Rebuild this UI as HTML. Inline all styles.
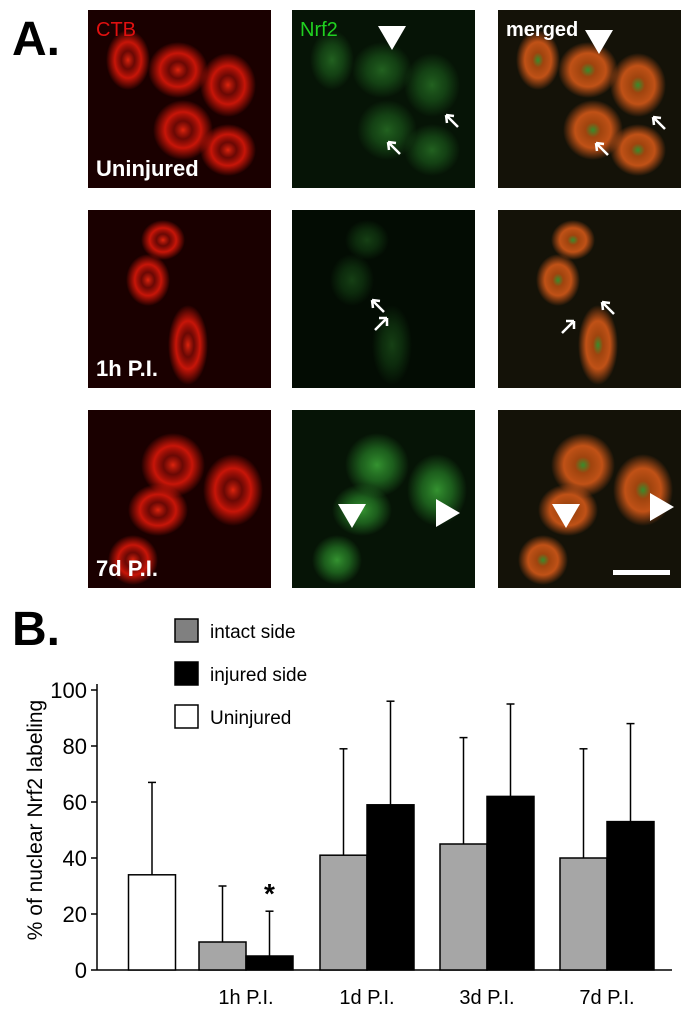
<!DOCTYPE html>
<html><head><meta charset="utf-8"><style>
body{margin:0;background:#fff;width:692px;height:1018px;overflow:hidden;font-family:"Liberation Sans",sans-serif}
svg text{font-family:"Liberation Sans",sans-serif}
</style></head><body>
<svg width="692" height="1018" viewBox="0 0 692 1018">
<defs>
<radialGradient id="rc"><stop offset="0" stop-color="#ff2a10" stop-opacity=".95"/><stop offset=".3" stop-color="#b01008" stop-opacity=".6"/><stop offset=".6" stop-color="#f01a0a" stop-opacity=".9"/><stop offset="1" stop-color="#f01a0a" stop-opacity="0"/></radialGradient>
<radialGradient id="gc"><stop offset="0" stop-color="#3fb03a" stop-opacity=".9"/><stop offset=".5" stop-color="#2a8a2a" stop-opacity=".7"/><stop offset="1" stop-color="#2a8a2a" stop-opacity="0"/></radialGradient>
<radialGradient id="oc"><stop offset="0" stop-color="#3a9a30"/><stop offset=".25" stop-color="#c05010" stop-opacity=".9"/><stop offset=".6" stop-color="#e8601a" stop-opacity=".9"/><stop offset="1" stop-color="#e8601a" stop-opacity="0"/></radialGradient>
</defs>
<text x="12" y="55" font-size="48" font-weight="bold">A.</text>
<g id="panels"></g>
<text x="12" y="645" font-size="48" font-weight="bold">B.</text>
<g id="chart"></g>
</svg>
<script>
const NS="http://www.w3.org/2000/svg";
function mk(p,t,a){const e=document.createElementNS(NS,t);for(const k in a)e.setAttribute(k,a[k]);p.appendChild(e);return e;}
// micrographs
const P=document.getElementById('panels');
const colX=[88,292,498], rowY=[10,210,410], pw=183, ph=178;
const bg=['#1a0000','#061406','#141208'];
const cells=[[[40,50,22,30],[90,60,30,28],[140,75,28,32],[95,120,30,30],[140,140,28,26]],[[75,30,22,20],[60,70,22,26],[100,135,20,40]],[[85,55,32,32],[70,100,30,26],[145,80,30,36],[45,150,25,25]]];
const rowLabels=['Uninjured','1h P.I.','7d P.I.'];
for(let r=0;r<3;r++)for(let c=0;c<3;c++){
  const g=mk(P,'g',{transform:`translate(${colX[c]},${rowY[r]})`});
  
  
  mk(g,'rect',{x:0,y:0,width:pw,height:ph,fill:(r==1&&c==1)?'#030c03':bg[c]});
  const fills=['url(#rc)','url(#gc)','url(#oc)'];
  cells[r].forEach(cl=>{mk(g,'ellipse',{cx:cl[0],cy:cl[1],rx:cl[2],ry:cl[3],fill:fills[c],opacity:(r==1&&c==1)?0.35:(c==1&&r==0?0.55:0.9)});});
  if(c==0){const t=mk(g,'text',{x:8,y:ph-12,'font-size':22,'font-weight':'bold',fill:'#fff'});t.textContent=rowLabels[r];
    }
  if(r==0){const t=mk(g,'text',{x:8,y:26,'font-size':20,fill:['#e01010','#20d020','#fff'][c],'font-weight':c==2?'bold':'normal'});t.textContent=['CTB','Nrf2','merged'][c];
    }
  if(r==2&&c==2){const s=mk(g,'rect',{x:115,y:160,width:57,height:5,fill:'#fff'});}
}
function tri(x,y,dir){const p=dir=='down'?`${x-14},${y-14} ${x+14},${y-14} ${x},${y+10}`:`${x-10},${y-14} ${x-10},${y+14} ${x+14},${y}`;const e=mk(P,'polygon',{points:p,fill:'#fff'});}
function arr(x,y){const e=mk(P,'path',{d:`M${x+12},${y+12} L${x},${y} M${x},${y} l8,1 M${x},${y} l1,8`,stroke:'#fff','stroke-width':2.5,fill:'none'});}
tri(392,40,'down');tri(599,44,'down');
[[388,142],[446,115],[596,143],[653,117],[372,300],[602,302]].forEach(a=>arr(a[0],a[1]));
tri(352,518,'down');tri(566,518,'down');
tri(446,513,'right');tri(660,507,'right');
mk(P,'path',{d:'M375,330 l12,-12 M387,318 l-8,0 M387,318 l0,8 M562,333 l12,-12 M574,321 l-8,0 M574,321 l0,8',stroke:'#fff','stroke-width':2.5});

// chart data
const categories=['','1h P.I.','1d P.I.','3d P.I.','7d P.I.'];
const uninjuredVal=[34], uninjuredErr=[67];
const intactVals=[null,10,41,45,40], intactErr=[null,30,79,83,79];
const injuredVals=[null,5,59,62,53], injuredErr=[null,21,96,95,88];
const yTicks=[0,20,40,60,80,100];
const C=document.getElementById('chart');
const x0=97,x1=672,yBase=970,yTop=690;
const y=v=>yBase-(v/100)*(yBase-yTop);
const groupCenter=i=>[152,246,367,487,607][i];
const bw=47;
mk(C,'line',{x1:x0,y1:yTop-6,x2:x0,y2:yBase,stroke:'#000','stroke-width':1.5});
mk(C,'line',{x1:x0,y1:yBase,x2:x1,y2:yBase,stroke:'#000','stroke-width':1.5});
yTicks.forEach(t=>{mk(C,'line',{x1:x0-6,y1:y(t),x2:x0,y2:y(t),stroke:'#000','stroke-width':1.5});
 const tx=mk(C,'text',{x:x0-10,y:y(t)+8,'font-size':22,'text-anchor':'end'});tx.textContent=t;
 });
const yt=mk(C,'text',{x:0,y:0,'font-size':21,'text-anchor':'middle',transform:`translate(42,820) rotate(-90)`});yt.textContent='% of nuclear Nrf2 labeling';

function bar(xl,v,e,fill,name){
 const r=mk(C,'rect',{x:xl,y:y(v),width:bw,height:yBase-y(v),fill:fill,stroke:'#000','stroke-width':1.5});
 
 const cx=xl+bw/2;
 mk(C,'line',{x1:cx,y1:y(v),x2:cx,y2:y(e),stroke:'#000','stroke-width':1.5});
 mk(C,'line',{x1:cx-4,y1:y(e),x2:cx+4,y2:y(e),stroke:'#000','stroke-width':1.5});
}
bar(groupCenter(0)-bw/2,uninjuredVal[0],uninjuredErr[0],'#fff','bar-uninjured');
for(let i=1;i<categories.length;i++){
 bar(groupCenter(i)-bw,intactVals[i],intactErr[i],'#a6a6a6','bar-intact-'+i);
 bar(groupCenter(i),injuredVals[i],injuredErr[i],'#000','bar-injured-'+i);
 const t=mk(C,'text',{x:groupCenter(i),y:1004,'font-size':20,'text-anchor':'middle'});t.textContent=categories[i];
 
}
const st=mk(C,'text',{x:groupCenter(1)+bw/2,y:y(injuredErr[1])-8,'font-size':28,'text-anchor':'middle','font-weight':'bold'});st.textContent='*';

const leg=[['#808080','intact side'],['#000','injured side'],['#fff','Uninjured']];
leg.forEach((l,i)=>{const g=mk(C,'g',{});
 
 mk(g,'rect',{x:175,y:619+i*43,width:23,height:23,fill:l[0],stroke:'#000','stroke-width':1.5});
 const t=mk(g,'text',{x:210,y:638+i*43,'font-size':19});t.textContent=l[1];});
</script>
</body></html>
